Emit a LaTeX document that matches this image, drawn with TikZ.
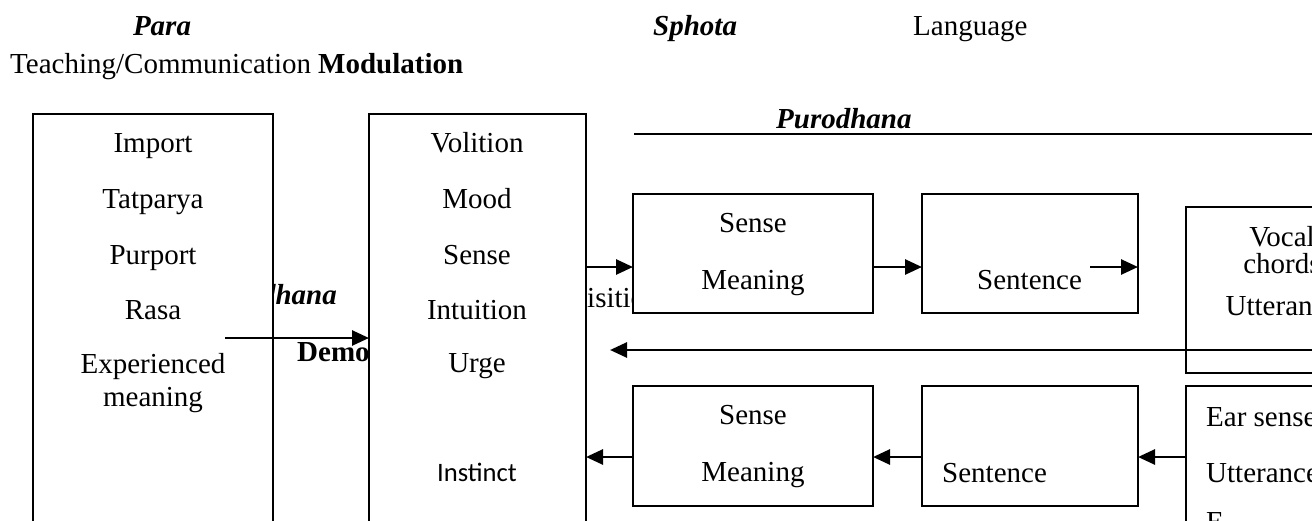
\documentclass[tikz,border=0pt]{standalone}
\usepackage{fontspec}
\setmainfont{Liberation Serif}
\newfontfamily\calibfont{Carlito}
\usetikzlibrary{arrows.meta}
\begin{document}
\begin{tikzpicture}[x=1pt,y=-1pt,
  box/.style={draw, line width=1.8pt, fill=white, inner sep=0pt, outer sep=0pt, anchor=north west},
  txt/.style={inner sep=0pt, anchor=base, font=\fontsize{29}{34}\selectfont},
  txtw/.style={txt, anchor=base west},
  txte/.style={txt, anchor=base east},
  bi/.style={font=\fontsize{29}{34}\selectfont\bfseries\itshape},
  bo/.style={font=\fontsize{29}{34}\selectfont\bfseries},
  arr/.style={line width=2.7pt, -{Triangle[length=17pt,width=15pt]}}]
\useasboundingbox (0,0) rectangle (1312,520);
\clip (0,0) rectangle (1312,520);
% heading texts
\node[txt, bi] (para) at (162,35) {Para};
\node[txtw, bi] (sphota) at (653,35) {Sphota};
\node[txtw] (lang) at (913,35) {Language};
\node[txtw] (teach) at (10,73) {Teaching/Communication \textbf{Modulation}};
\node[txtw, bi] (puro) at (776,128) {Purodhana};
\coordinate (pl) at (634,134);
\coordinate (pr) at (1312,134);
\draw[line width=2pt] (pl) -- (pr);
% texts partly hidden by boxes
\node[txte, bi] (dhana) at (337,304) {dhana};
\node[txtw, bo] (demo) at (297,361) {Demo};
\node[txtw] (isit) at (587,307) {isitio};
% boxes
\node[box, minimum width=240pt, minimum height=500pt] (b1) at (33,114) {};
\node[box, minimum width=217pt, minimum height=500pt] (b2) at (369,114) {};
\node[box, minimum width=240pt, minimum height=119pt] (bA) at (633,194) {};
\node[box, minimum width=216pt, minimum height=119pt] (bB) at (922,194) {};
\node[box, minimum width=250pt, minimum height=166pt] (bC) at (1186,207) {};
\node[box, minimum width=240pt, minimum height=120pt] (bE) at (633,386) {};
\node[box, minimum width=216pt, minimum height=120pt] (bF) at (922,386) {};
\node[box, minimum width=250pt, minimum height=300pt] (bD) at (1186,386) {};
% box 1 texts
\node[txt] (t11) at (153,152) {Import};
\node[txt] (t12) at (153,208) {Tatparya};
\node[txt] (t13) at (153,264) {Purport};
\node[txt] (t14) at (153,319) {Rasa};
\node[txt] (t15) at (153,373) {Experienced};
\node[txt] (t16) at (153,406) {meaning};
% box 2 texts
\node[txt] (t21) at (477,152) {Volition};
\node[txt] (t22) at (477,208) {Mood};
\node[txt] (t23) at (477,264) {Sense};
\node[txt] (t24) at (477,319) {Intuition};
\node[txt] (t25) at (477,372) {Urge};
\node[txt, font=\fontsize{26.6}{32}\calibfont] (t26) at (477,481) {Instinct};
% upper row
\node[txt] (tA1) at (753,232) {Sense};
\node[txt] (tA2) at (753,289) {Meaning};
\node[txtw] (tB1) at (977,289) {Sentence};
\node[txt] (tC1) at (1282,246) {Vocal};
\node[txt] (tC2) at (1282,273) {chords};
\node[txt] (tC3) at (1282,315) {Utterance};
% lower row
\node[txt] (tE1) at (753,424) {Sense};
\node[txt] (tE2) at (753,481) {Meaning};
\node[txtw] (tF1) at (942,482) {Sentence};
\node[txtw] (tD1) at (1206,426) {Ear sense};
\node[txtw] (tD2) at (1206,482) {Utterance};
\node[txtw] (tD3) at (1206,531) {E};
% arrows
\coordinate (yU) at (0,267);
\coordinate (yL) at (0,457);
\coordinate (a0) at (225,338);
\draw[arr] (a0) -- (b2.west |- a0);
\draw[arr] (b2.east |- yU) -- (bA.west |- yU);
\draw[arr] (bA.east |- yU) -- (bB.west |- yU);
\coordinate (s1) at (1090,267);
\draw[arr] (s1) -- (bB.east |- yU);
\coordinate (lr) at (1312,350);
\coordinate (ll) at (610,350);
\draw[arr] (lr) -- (ll);
\draw[arr] (bD.west |- yL) -- (bF.east |- yL);
\draw[arr] (bF.west |- yL) -- (bE.east |- yL);
\draw[arr] (bE.west |- yL) -- (b2.east |- yL);
\end{tikzpicture}
\end{document}
